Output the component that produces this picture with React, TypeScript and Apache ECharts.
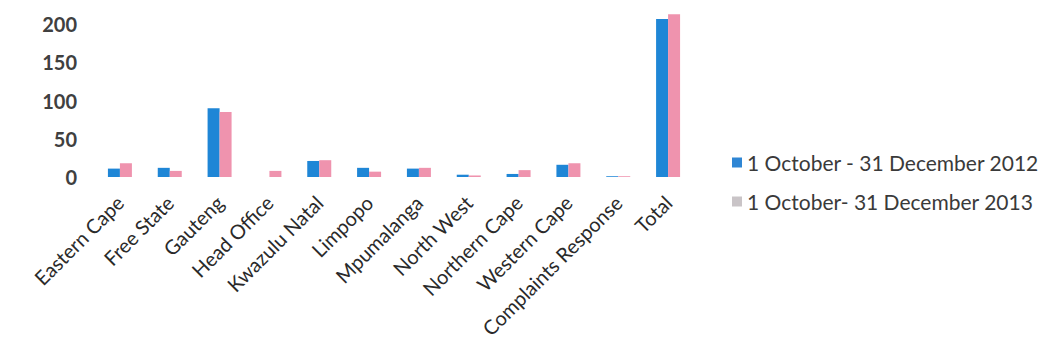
import React, { useEffect, useRef } from "react";
import * as echarts from "echarts";

const categories = [
  "Eastern Cape",
  "Free State",
  "Gauteng",
  "Head Office",
  "Kwazulu Natal",
  "Limpopo",
  "Mpumalanga",
  "North West",
  "Northern Cape",
  "Western Cape",
  "Complaints Response",
  "Total",
];
const series2012 = [11, 12, 90, 0, 21, 12, 11, 3, 4, 16, 1, 207];
const series2013 = [18, 8, 85, 8, 22, 7, 12, 2, 9, 18, 1, 213];
const seriesNames = ["1 October - 31 December 2012", "1 October- 31 December 2013"];
const yTicks = { min: 0, max: 220, interval: 50 };

export default function App() {
  const ref = useRef<HTMLDivElement>(null);
  useEffect(() => {
    if (!ref.current) return;
    const chart = echarts.init(ref.current, undefined, { renderer: "svg" });
    chart.setOption({
      animation: false,
      backgroundColor: "#ffffff",
      textStyle: { fontFamily: "Lato" },
      grid: { left: 95, right: 358, top: 9, bottom: 175, containLabel: false },
      legend: {
        orient: "vertical",
        left: 727,
        top: 147,
        itemWidth: 10,
        itemHeight: 10,
        itemGap: 18,
        icon: "rect",
        textStyle: { fontSize: 21, color: "#3a3a3a", fontFamily: "Lato" },
        data: [
          { name: seriesNames[0], itemStyle: { color: "#2f86d4" } },
          { name: seriesNames[1], itemStyle: { color: "#c9c4c7" } },
        ],
      },
      xAxis: {
        type: "category",
        data: categories,
        axisLine: { show: false },
        axisTick: { show: false },
        axisLabel: {
          rotate: 45,
          interval: 0,
          margin: 22,
          fontSize: 20,
          color: "#2a2a2a",
          fontFamily: "Lato",
        },
      },
      yAxis: {
        type: "value",
        min: yTicks.min,
        max: yTicks.max,
        interval: yTicks.interval,
        splitLine: { show: false },
        axisLine: { show: false },
        axisTick: { show: false },
        axisLabel: {
          margin: 18,
          fontSize: 20,
          fontWeight: "bold",
          color: "#404040",
          fontFamily: "Lato",
          showMaxLabel: false,
          formatter: (v: number) => (v % yTicks.interval === 0 ? String(v) : ""),
        },
      },
      series: [
        {
          name: seriesNames[0],
          type: "bar",
          data: series2012,
          barWidth: 12,
          barGap: "0%",
          itemStyle: { color: "#1f86d6" },
        },
        {
          name: seriesNames[1],
          type: "bar",
          data: series2013,
          barWidth: 12,
          itemStyle: { color: "#ef93ae" },
        },
      ],
    });
    return () => chart.dispose();
  }, []);
  return (
    <div
      ref={ref}
      style={{ position: "fixed", left: 0, top: 0, width: 1051, height: 352 }}
    />
  );
}
